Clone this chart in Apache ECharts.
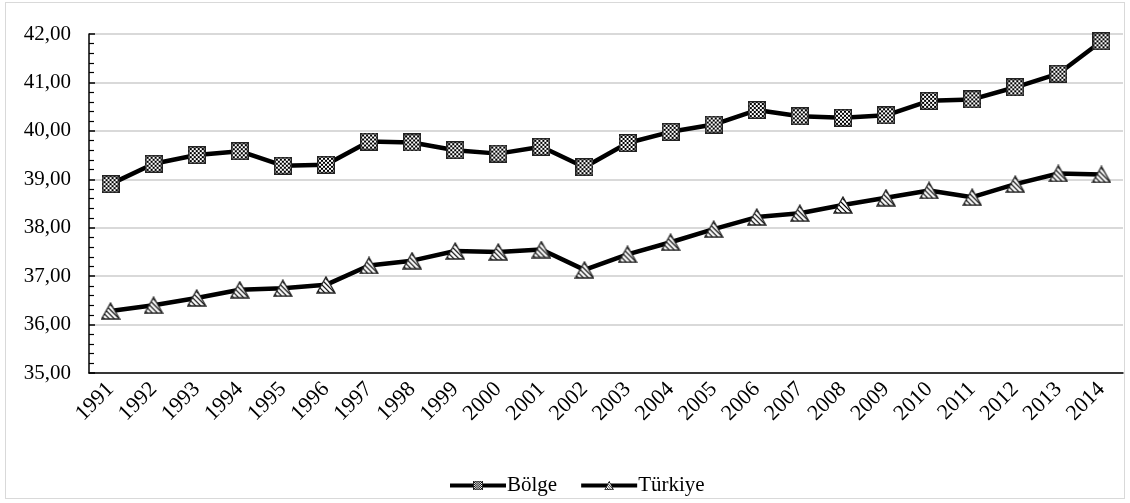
<!DOCTYPE html>
<html>
<head>
<meta charset="utf-8">
<script src="https://cdn.jsdelivr.net/npm/echarts@6/dist/echarts.min.js"></script>
<style>
  html, body { margin: 0; padding: 0; background: #fff; }
  #frame { position: absolute; left: 5px; top: 2px; width: 1120px; height: 497px; border: 1px solid #d9d9d9; box-sizing: border-box; }
  #chart-container { width: 1130px; height: 503px; }
</style>
</head>
<body>
<div id="frame"></div>
<div id="chart-container"></div>
<script>
var dom = document.getElementById('chart-container');
var myChart = echarts.init(dom, null, { renderer: 'canvas' });

const years = ['1991', '1992', '1993', '1994', '1995', '1996', '1997', '1998', '1999', '2000', '2001', '2002',
  '2003', '2004', '2005', '2006', '2007', '2008', '2009', '2010', '2011', '2012', '2013', '2014'];
const bolge = [38.90, 39.32, 39.50, 39.58, 39.28, 39.30, 39.78, 39.76, 39.60, 39.53, 39.67, 39.25,
  39.75, 39.98, 40.13, 40.43, 40.30, 40.27, 40.32, 40.62, 40.65, 40.90, 41.18, 41.85];
const turkiye = [36.28, 36.40, 36.55, 36.72, 36.75, 36.82, 37.22, 37.32, 37.52, 37.50, 37.55, 37.13,
  37.45, 37.70, 37.97, 38.22, 38.30, 38.47, 38.62, 38.77, 38.63, 38.90, 39.12, 39.10];

// square marker with checkerboard fill
function squareMarker() {
  var s = 18;
  var c = document.createElement('canvas');
  c.width = s; c.height = s;
  var ctx = c.getContext('2d');
  ctx.fillStyle = '#fff'; ctx.fillRect(0, 0, s, s);
  ctx.fillStyle = '#000';
  for (var y = 0; y < s; y += 2) {
    for (var x = 0; x < s; x += 2) {
      if (((x + y) / 2) % 2 === 0) ctx.fillRect(x, y, 2, 2);
    }
  }
  ctx.strokeStyle = '#222'; ctx.lineWidth = 1.5;
  ctx.strokeRect(0.75, 0.75, s - 1.5, s - 1.5);
  return 'image://' + c.toDataURL();
}
// triangle marker with diagonal hatch
function triangleMarker() {
  var w = 20, h = 18;
  var c = document.createElement('canvas');
  c.width = w; c.height = h;
  var ctx = c.getContext('2d');
  ctx.beginPath();
  ctx.moveTo(w / 2, 1); ctx.lineTo(w - 1, h - 1); ctx.lineTo(1, h - 1); ctx.closePath();
  ctx.save();
  ctx.clip();
  ctx.fillStyle = '#fff'; ctx.fillRect(0, 0, w, h);
  ctx.strokeStyle = '#000'; ctx.lineWidth = 1.2;
  for (var k = -h; k < w; k += 5) {
    ctx.beginPath(); ctx.moveTo(k, 0); ctx.lineTo(k + h, h); ctx.stroke();
  }
  ctx.restore();
  ctx.beginPath();
  ctx.moveTo(w / 2, 1); ctx.lineTo(w - 1, h - 1); ctx.lineTo(1, h - 1); ctx.closePath();
  ctx.strokeStyle = '#222'; ctx.lineWidth = 1.3; ctx.stroke();
  return 'image://' + c.toDataURL();
}

var font = '"Liberation Serif", "Times New Roman", serif';

var option = {
  animation: false,
  textStyle: { fontFamily: font },
  grid: { left: 89, right: 7, top: 34, bottom: 130 },
  legend: {
    top: 470,
    left: 443,
    itemWidth: 56,
    itemHeight: 12,
    itemGap: 22,
    lineStyle: { width: 4, color: '#000' },
    textStyle: { fontFamily: font, fontSize: 21, color: '#000', padding: [0, 0, 0, -4] },
    data: ['Bölge', 'Türkiye']
  },
  xAxis: {
    type: 'category',
    data: years,
    axisLine: { lineStyle: { color: '#000', width: 1.5 } },
    axisTick: { alignWithLabel: true, length: 6, lineStyle: { color: '#000', width: 1.5 } },
    axisLabel: { rotate: 45, fontFamily: font, fontSize: 22, color: '#000', margin: 13 }
  },
  yAxis: {
    type: 'value',
    min: 35,
    max: 42,
    interval: 1,
    axisLine: { show: true, lineStyle: { color: '#000', width: 1.5 } },
    axisTick: { show: true, inside: true, length: 6, lineStyle: { color: '#000', width: 1.5 } },
    minorTick: { show: true, splitNumber: 5, length: 5, lineStyle: { color: '#000', width: 1.2 } },
    splitLine: { lineStyle: { color: '#d9d9d9', width: 2 } },
    axisLabel: {
      fontFamily: font, fontSize: 21, color: '#000', margin: 18,
      formatter: function (v) { return v.toFixed(2).replace('.', ','); }
    }
  },
  series: [
    {
      name: 'Bölge',
      type: 'line',
      data: bolge,
      symbol: squareMarker(),
      symbolSize: [18, 18],
      lineStyle: { color: '#000', width: 4.5 },
      itemStyle: { color: '#000' }
    },
    {
      name: 'Türkiye',
      type: 'line',
      data: turkiye,
      symbol: triangleMarker(),
      symbolSize: [20, 18],
      lineStyle: { color: '#000', width: 4.5 },
      itemStyle: { color: '#000' }
    }
  ]
};

myChart.setOption(option);
window.addEventListener('resize', myChart.resize);
</script>
</body>
</html>
